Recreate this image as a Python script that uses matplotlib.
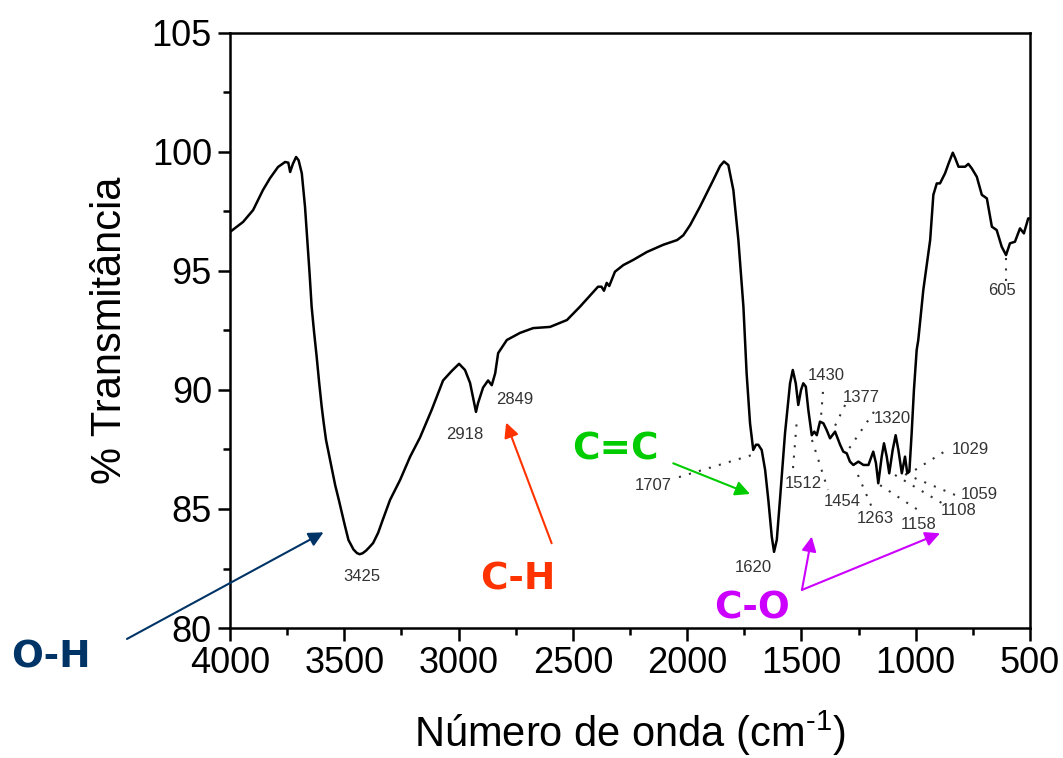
import matplotlib
matplotlib.use("Agg")
import matplotlib.pyplot as plt
from matplotlib.ticker import MultipleLocator

# FTIR spectrum: wavenumber (cm-1) and % transmittance
wavenumber = [
    4000, 3943, 3899, 3856, 3825, 3790, 3759, 3745, 3737, 3725, 3711, 3700, 3686,
    3672, 3662, 3652, 3643, 3632, 3621, 3610, 3599, 3590, 3580, 3555, 3540, 3524,
    3500, 3482, 3460, 3445, 3433, 3420, 3405, 3390, 3374, 3352,
    3332, 3300, 3256, 3212, 3169, 3118, 3068, 3030, 2998, 2972, 2950, 2924, 2915,
    2893, 2871, 2855, 2840, 2827, 2789, 2731, 2674, 2600, 2526, 2469, 2390, 2375,
    2364, 2352, 2341, 2316, 2279, 2237, 2176, 2105, 2044, 2017, 1987, 1944, 1887,
    1856, 1839, 1820, 1798, 1776, 1754, 1740, 1725, 1711, 1699, 1689, 1674, 1659,
    1645, 1630, 1620, 1608, 1594, 1572, 1550, 1538, 1525, 1514, 1502, 1492, 1481,
    1470, 1455, 1444, 1433, 1419, 1404, 1390, 1375, 1353, 1331, 1317, 1302, 1288,
    1273, 1251, 1229, 1207, 1186, 1174, 1164, 1149, 1139, 1127, 1116, 1101, 1088,
    1076, 1061, 1047, 1037, 1028, 1018, 1008, 996, 989, 967, 937, 923, 908, 894,
    872, 857, 838, 827, 813, 784, 770, 755, 733, 711, 689, 667, 646, 624, 605,
    588, 566, 544, 527, 508, 500,
]
transmittance = [
    96.64, 97.06, 97.56, 98.40, 98.90, 99.37, 99.58, 99.55, 99.16, 99.50, 99.79, 99.65, 99.10,
    97.70, 96.30, 94.90, 93.50, 92.40, 91.40, 90.30, 89.30, 88.60, 87.90, 86.70, 86.00, 85.38,
    84.40, 83.70, 83.30, 83.15, 83.10, 83.14, 83.25, 83.40, 83.57, 84.00,
    84.54, 85.38, 86.22, 87.20, 88.00, 89.16, 90.40, 90.80, 91.10, 90.84, 90.30, 89.08, 89.45,
    90.10, 90.40, 90.20, 90.70, 91.55, 92.10, 92.40, 92.60, 92.65, 92.94, 93.50, 94.34, 94.34,
    94.17, 94.50, 94.37, 94.97, 95.25, 95.46, 95.80, 96.10, 96.30, 96.50, 96.93, 97.70, 98.80,
    99.41, 99.60, 99.45, 98.40, 96.30, 93.50, 90.70, 88.60, 87.48, 87.70, 87.70, 87.48, 86.64,
    85.38, 83.84, 83.20, 83.70, 85.40, 88.18, 90.28, 90.84, 90.28, 89.37, 90.00, 90.28, 90.14,
    89.16, 88.10, 88.25, 88.10, 88.67, 88.60, 88.32, 87.97, 88.25, 87.70, 87.41, 87.34, 86.99,
    86.85, 86.99, 86.85, 86.85, 87.41, 86.92, 86.08, 87.20, 87.76, 87.20, 86.50, 87.48, 88.10,
    87.48, 86.50, 87.20, 86.50, 86.57, 88.18, 90.00, 91.68, 92.10, 94.20, 96.30, 98.20, 98.68, 98.68,
    99.10, 99.50, 99.97, 99.73, 99.38, 99.38, 99.50, 99.31, 98.96, 98.20, 98.05, 96.86, 96.72, 96.02, 95.67,
    96.16, 96.23, 96.79, 96.58, 97.21, 97.20,
]

# Peak labels: text, label position, optional dotted leader (start, end)
peak_labels = ["3425", "2918", "2849", "1707", "1620", "1512", "1430", "1377", "1320",
               "1454", "1263", "1158", "1108", "1059", "1029", "605"]
label_pos = [(3423, 82.18), (2972, 88.15), (2753, 89.58), (2149, 86.0), (1712, 82.56),
             (1493, 86.09), (1392, 90.59), (1239, 89.70), (1104, 88.82), (1322, 85.30),
             (1178, 84.62), (986, 84.33), (811, 84.92), (723, 85.63), (762, 87.48), (622, 94.16)]
leaders = [None, None, None,
           ((2036, 86.34), (1716, 87.27)), None,
           ((1537, 86.72), (1519, 88.87)),
           ((1406, 89.92), (1414, 88.95)),
           ((1309, 89.37), (1362, 88.32)),
           ((1183, 89.08), (1296, 87.48)),
           ((1454, 87.90), (1384, 85.80)),
           ((1253, 86.43), (1187, 84.96)),
           ((1156, 86.00), (990, 84.96)),
           ((1091, 86.43), (872, 85.17)),
           ((1047, 86.47), (828, 85.59)),
           ((1003, 86.64), (850, 87.56)),
           ((605, 95.55), (605, 94.54))]

# Functional-group callouts
groups = ["O-H", "C-H", "C=C", "C-O"]
group_colors = ["#003366", "#FF3300", "#00CC00", "#CC00FF"]
group_text_pos = [(4783, 78.74), (2739, 82.02), (2316, 87.48), (1716, 80.84)]
group_arrows = [
    [((4451, 79.54), (3591, 84.02))],
    [((2593, 83.56), (2792, 88.63))],
    [((2061, 86.92), (1725, 85.63))],
    [((1498, 81.60), (1455, 83.84)), ((1498, 81.60), (894, 83.98))],
]

plt.rcParams["font.family"] = ["Liberation Sans", "DejaVu Sans"]
plt.rcParams["mathtext.fontset"] = "custom"
plt.rcParams["mathtext.rm"] = "Liberation Sans"
plt.rcParams["mathtext.it"] = "Liberation Sans:italic"
plt.rcParams["mathtext.bf"] = "Liberation Sans:bold"

fig = plt.figure(figsize=(10.63, 7.58), dpi=100)
ax = fig.add_axes([0.2164, 0.1715, 0.7526, 0.785])

ax.plot(wavenumber, transmittance, color="black", lw=1.8, zorder=3,
        solid_joinstyle="round", solid_capstyle="round")

ax.set_xlim(4000, 500)
ax.set_ylim(80, 105)
ax.xaxis.set_major_locator(MultipleLocator(500))
ax.xaxis.set_minor_locator(MultipleLocator(250))
ax.yaxis.set_major_locator(MultipleLocator(5))
ax.yaxis.set_minor_locator(MultipleLocator(2.5))
ax.tick_params(which="both", direction="out", width=1.8, top=False, right=False)
ax.tick_params(which="major", length=9, labelsize=26, pad=4)
ax.tick_params(which="minor", length=5)
for s in ax.spines.values():
    s.set_linewidth(1.8)

ax.set_xlabel(r"Número de onda (cm$^{\mathrm{\text{-}1}}$)", fontsize=30, labelpad=20)
ax.set_ylabel("% Transmitância", fontsize=30, labelpad=16)

for txt, (lx, ly), ld in zip(peak_labels, label_pos, leaders):
    ax.text(lx, ly, txt, fontsize=12, color="#333333", ha="center", va="center", zorder=4)
    if ld is not None:
        (x0, y0), (x1, y1) = ld
        ax.plot([x0, x1], [y0, y1], linestyle=(0, (1, 4)), color="#333333", lw=1.5, zorder=2)

for name, col, (tx, ty), arrows in zip(groups, group_colors, group_text_pos, group_arrows):
    ax.text(tx, ty, name, fontsize=27, fontweight="bold", color=col, family="DejaVu Sans",
            ha="center", va="center", clip_on=False, zorder=5)
    for (x0, y0), (x1, y1) in arrows:
        ax.annotate("", xy=(x1, y1), xytext=(x0, y0), annotation_clip=False,
                    arrowprops=dict(arrowstyle="-|>", color=col, lw=1.5,
                                    mutation_scale=22, shrinkA=0, shrinkB=0),
                    zorder=5)

fig.savefig("out.png", dpi=100)
